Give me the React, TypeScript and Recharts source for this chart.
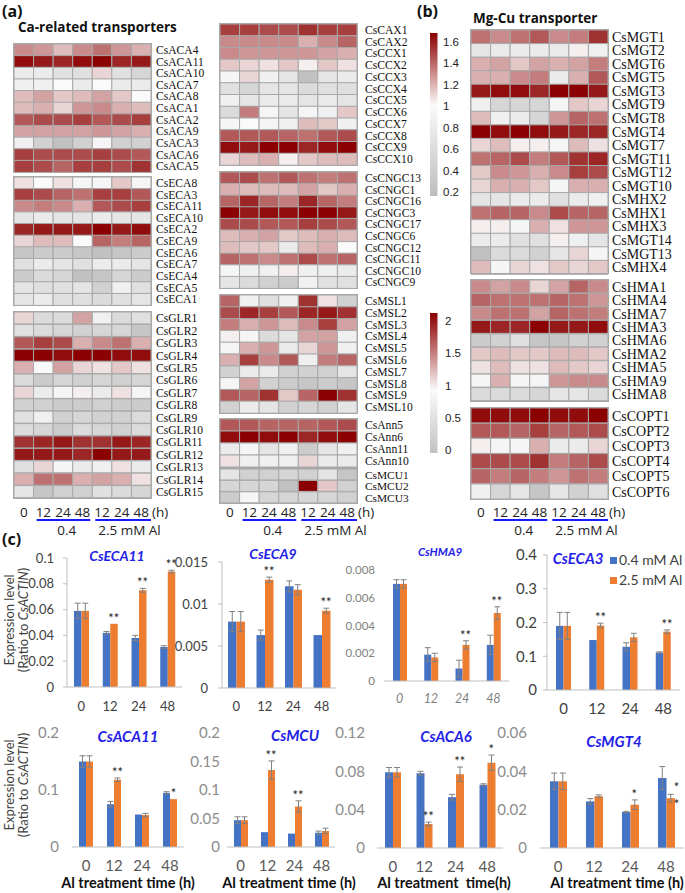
import React from 'react';
import { BarChart, Bar, Cell, XAxis, YAxis, ComposedChart, ErrorBar, Scatter } from 'recharts';

const SERIF = '"Liberation Serif", "Times New Roman", serif';
const SANS = 'Lato, "Open Sans", sans-serif';
const HEAD = '"Open Sans", sans-serif';
const BLUE = '#4472C4';
const ORANGE = '#ED7D31';
const TITLE_BLUE = '#1f22e6';
const CELL = 137 / 7;

// heatmap columns: 0 h, then 12/24/48 h at 0.4 mM, then 12/24/48 h at 2.5 mM Al
const acaGenes = ['CsACA4', 'CsACA11', 'CsACA10', 'CsACA7', 'CsACA8', 'CsACA1', 'CsACA2', 'CsACA9', 'CsACA3', 'CsACA6', 'CsACA5'];
const acaValues = [
  [1.45, 1.4, 1.25, 1.45, 1.55, 1.4, 1.3],
  [1.95, 1.9, 1.85, 1.95, 2.0, 1.85, 1.9],
  [0.85, 0.85, 0.75, 0.75, 1.15, 0.75, 0.65],
  [0.9, 0.9, 1.0, 0.85, 1.0, 0.85, 0.85],
  [1.25, 1.35, 1.2, 1.25, 1.35, 1.2, 1.0],
  [1.25, 1.3, 1.15, 1.4, 1.45, 1.3, 1.25],
  [1.65, 1.7, 1.7, 1.75, 1.65, 1.7, 1.75],
  [1.35, 1.35, 1.35, 1.35, 1.4, 1.35, 1.3],
  [0.9, 0.6, 0.45, 0.6, 0.95, 0.6, 0.6],
  [1.75, 1.7, 1.7, 1.7, 1.75, 1.7, 1.65],
  [1.75, 1.7, 1.6, 1.75, 1.75, 1.7, 1.8],
];

const ecaGenes = ['CsECA8', 'CsECA3', 'CsECA11', 'CsECA10', 'CsECA2', 'CsECA9', 'CsECA6', 'CsECA7', 'CsECA4', 'CsECA5', 'CsECA1'];
const ecaValues = [
  [1.1, 1.0, 1.1, 0.95, 0.95, 1.2, 0.95],
  [1.75, 1.7, 1.6, 1.55, 1.75, 1.75, 1.65],
  [1.45, 1.5, 1.45, 1.3, 1.65, 1.7, 1.75],
  [0.8, 0.85, 0.8, 0.8, 0.85, 0.8, 0.8],
  [1.85, 1.9, 1.9, 1.9, 2.0, 1.9, 1.95],
  [1.15, 1.25, 1.25, 1.0, 1.6, 1.5, 1.6],
  [0.5, 0.55, 0.55, 0.5, 0.45, 0.5, 0.55],
  [0.75, 0.85, 0.8, 0.75, 0.85, 0.85, 0.8],
  [0.55, 0.7, 0.65, 0.45, 0.5, 0.65, 0.55],
  [0.8, 0.75, 0.75, 0.8, 0.6, 0.9, 0.75],
  [0.8, 0.85, 0.75, 0.75, 0.7, 0.75, 0.8],
];

const glrGenes = ['CsGLR1', 'CsGLR2', 'CsGLR3', 'CsGLR4', 'CsGLR5', 'CsGLR6', 'CsGLR7', 'CsGLR8', 'CsGLR9', 'CsGLR10', 'CsGLR11', 'CsGLR12', 'CsGLR13', 'CsGLR14', 'CsGLR15'];
const glrValues = [
  [1.15, 0.7, 0.7, 1.35, 0.9, 0.7, 0.75],
  [0.75, 0.7, 0.65, 0.6, 0.65, 0.65, 0.5],
  [1.65, 1.75, 1.7, 1.3, 1.45, 1.55, 1.3],
  [2.0, 2.0, 1.95, 2.0, 2.0, 1.95, 1.95],
  [1.3, 1.0, 1.35, 1.15, 1.1, 1.2, 1.1],
  [0.7, 0.55, 0.65, 0.6, 0.65, 0.6, 0.65],
  [1.15, 0.85, 0.95, 1.05, 0.85, 1.1, 0.95],
  [0.6, 0.6, 0.55, 0.55, 0.6, 0.55, 0.55],
  [0.75, 0.9, 0.6, 0.65, 0.6, 0.6, 0.7],
  [0.7, 0.65, 0.55, 0.7, 0.65, 0.6, 0.7],
  [1.8, 1.85, 1.9, 1.8, 1.8, 1.9, 1.85],
  [1.9, 1.9, 1.9, 1.85, 2.0, 1.9, 1.9],
  [0.75, 1.15, 0.95, 0.85, 0.9, 1.1, 0.85],
  [1.3, 1.55, 1.55, 1.3, 1.35, 1.3, 1.1],
  [0.8, 0.5, 0.6, 0.6, 0.75, 0.7, 0.65],
];

const ccxGenes = ['CsCAX1', 'CsCAX2', 'CsCCX1', 'CsCCX2', 'CsCCX3', 'CsCCX4', 'CsCCX5', 'CsCCX6', 'CsCCX7', 'CsCCX8', 'CsCCX9', 'CsCCX10'];
const ccxValues = [
  [1.75, 1.75, 1.7, 1.7, 1.8, 1.75, 1.75],
  [1.45, 1.45, 1.45, 1.45, 1.3, 1.45, 1.6],
  [1.45, 1.4, 1.4, 1.4, 1.4, 1.35, 1.3],
  [1.2, 1.15, 1.1, 1.2, 1.05, 1.2, 1.1],
  [0.95, 1.15, 0.9, 0.8, 0.45, 0.8, 0.85],
  [0.75, 0.65, 0.8, 0.8, 0.7, 0.75, 0.75],
  [0.9, 0.8, 0.85, 0.85, 0.8, 0.85, 0.8],
  [0.7, 1.5, 0.95, 0.8, 0.95, 0.9, 1.2],
  [0.95, 1.0, 0.95, 0.9, 1.25, 1.2, 0.9],
  [1.65, 1.65, 1.65, 1.6, 1.55, 1.65, 1.7],
  [1.95, 1.9, 2.0, 2.0, 1.85, 1.95, 2.0],
  [1.15, 1.25, 1.3, 1.05, 1.2, 1.25, 1.25],
];

const cngcGenes = ['CsCNGC13', 'CsCNGC1', 'CsCNGC16', 'CsCNGC3', 'CsCNGC17', 'CsCNGC6', 'CsCNGC12', 'CsCNGC11', 'CsCNGC10', 'CsCNGC9'];
const cngcValues = [
  [1.65, 1.7, 1.55, 1.65, 1.55, 1.5, 1.55],
  [1.3, 1.25, 1.25, 1.25, 1.35, 1.2, 1.3],
  [1.6, 1.85, 1.6, 1.5, 1.85, 1.6, 1.5],
  [2.0, 1.9, 1.95, 1.95, 2.0, 2.0, 1.9],
  [1.7, 1.7, 1.65, 1.65, 1.75, 1.7, 1.65],
  [1.25, 1.3, 1.35, 1.2, 1.25, 1.3, 1.25],
  [1.25, 1.2, 1.2, 0.85, 1.25, 1.3, 1.0],
  [1.6, 1.55, 1.45, 1.55, 1.7, 1.55, 1.6],
  [0.95, 0.9, 0.9, 1.05, 0.9, 0.9, 0.85],
  [0.8, 0.7, 0.6, 0.55, 0.9, 0.75, 0.75],
];

const mslGenes = ['CsMSL1', 'CsMSL2', 'CsMSL3', 'CsMSL4', 'CsMSL5', 'CsMSL6', 'CsMSL7', 'CsMSL8', 'CsMSL9', 'CsMSL10'];
const mslValues = [
  [1.6, 0.9, 0.75, 0.9, 1.8, 1.1, 0.6],
  [1.7, 1.85, 1.75, 1.65, 1.85, 1.9, 1.8],
  [1.5, 1.3, 1.4, 1.25, 1.45, 1.75, 1.35],
  [1.05, 0.95, 0.7, 0.8, 1.35, 1.35, 0.9],
  [0.95, 1.3, 1.4, 0.85, 1.15, 1.4, 0.9],
  [1.3, 1.75, 1.45, 1.65, 0.9, 1.5, 1.6],
  [0.6, 0.85, 0.85, 0.6, 0.6, 0.6, 0.8],
  [0.95, 1.35, 0.6, 0.55, 0.5, 0.55, 0.5],
  [1.65, 1.6, 1.8, 1.2, 1.6, 2.0, 1.8],
  [0.6, 0.85, 0.8, 0.6, 0.65, 0.6, 0.8],
];

const annGenes = ['CsAnn5', 'CsAnn6', 'CsAnn11', 'CsAnn10'];
const annValues = [
  [1.65, 1.65, 1.6, 1.6, 1.6, 1.65, 1.7],
  [1.95, 2.0, 1.95, 2.0, 1.85, 1.95, 2.0],
  [0.85, 0.95, 0.8, 0.9, 0.55, 0.8, 0.9],
  [1.1, 0.9, 0.9, 0.9, 1.15, 0.85, 0.85],
];

const mcuGenes = ['CsMCU1', 'CsMCU2', 'CsMCU3'];
const mcuValues = [
  [0.8, 0.6, 0.6, 0.65, 0.6, 0.8, 0.5],
  [0.65, 0.65, 0.65, 0.45, 2.0, 1.2, 0.6],
  [0.55, 0.95, 0.65, 0.65, 0.65, 0.65, 0.6],
];

const mgtGenes = ['CsMGT1', 'CsMGT2', 'CsMGT6', 'CsMGT5', 'CsMGT3', 'CsMGT9', 'CsMGT8', 'CsMGT4', 'CsMGT7', 'CsMGT11', 'CsMGT12', 'CsMGT10', 'CsMHX2', 'CsMHX1', 'CsMHX3', 'CsMGT14', 'CsMGT13', 'CsMHX4'];
const mgtValues = [
  [1.55, 1.45, 1.55, 1.65, 1.45, 1.5, 1.8],
  [0.8, 0.85, 0.85, 0.85, 0.85, 1.05, 0.9],
  [1.3, 1.35, 1.2, 1.35, 1.3, 1.35, 1.5],
  [1.3, 1.3, 1.45, 1.5, 0.85, 1.3, 1.65],
  [1.9, 1.95, 1.95, 1.85, 2.0, 2.0, 1.9],
  [0.9, 0.65, 0.65, 0.65, 0.95, 1.2, 1.15],
  [1.25, 0.9, 0.85, 0.65, 1.4, 1.6, 1.55],
  [2.0, 1.95, 2.0, 1.95, 1.9, 1.85, 1.85],
  [1.15, 1.25, 1.05, 1.05, 0.95, 1.25, 1.1],
  [1.55, 1.6, 1.7, 1.5, 1.65, 1.8, 1.85],
  [1.2, 1.45, 1.4, 1.3, 1.45, 1.75, 1.7],
  [1.15, 1.3, 1.3, 1.2, 0.95, 1.3, 1.3],
  [0.8, 0.8, 0.85, 0.85, 0.75, 0.85, 0.9],
  [1.55, 1.6, 1.6, 1.45, 1.7, 1.6, 1.6],
  [1.05, 1.05, 0.95, 1.3, 1.1, 1.4, 1.4],
  [0.85, 0.85, 0.75, 0.75, 1.05, 0.9, 0.8],
  [0.45, 0.7, 0.7, 0.6, 0.8, 1.15, 0.95],
  [1.25, 0.95, 1.15, 1.1, 1.2, 1.15, 1.2],
];

const hmaGenes = ['CsHMA1', 'CsHMA4', 'CsHMA7', 'CsHMA3', 'CsHMA6', 'CsHMA2', 'CsHMA5', 'CsHMA9', 'CsHMA8'];
const hmaValues = [
  [1.45, 1.35, 1.45, 1.15, 1.35, 1.6, 1.45],
  [1.6, 1.55, 1.55, 1.55, 1.6, 1.55, 1.4],
  [1.45, 1.55, 1.55, 1.35, 1.6, 1.55, 1.5],
  [1.9, 1.85, 1.85, 2.0, 1.9, 1.9, 1.95],
  [0.55, 0.6, 0.75, 0.5, 0.5, 0.6, 0.6],
  [1.2, 1.25, 1.2, 1.2, 1.25, 1.25, 1.2],
  [1.1, 1.25, 1.1, 1.1, 1.25, 1.2, 1.15],
  [0.95, 1.3, 0.95, 0.95, 1.4, 1.45, 1.45],
  [0.7, 0.7, 0.7, 0.65, 0.8, 0.8, 0.7],
];

const coptGenes = ['CsCOPT1', 'CsCOPT2', 'CsCOPT3', 'CsCOPT4', 'CsCOPT5', 'CsCOPT6'];
const coptValues = [
  [1.95, 1.95, 1.95, 2.0, 1.95, 1.95, 2.0],
  [1.65, 1.65, 1.6, 1.75, 1.6, 1.65, 1.7],
  [1.05, 0.95, 0.95, 1.3, 0.85, 0.85, 1.15],
  [1.7, 1.7, 1.7, 1.8, 1.5, 1.6, 1.7],
  [1.6, 1.5, 1.6, 1.5, 1.4, 1.55, 1.5],
  [0.9, 0.65, 0.8, 0.5, 0.8, 0.6, 0.75],
];

// ---- qRT-PCR bar charts (ratio to CsACTIN)
const times = ['0', '12', '24', '48'];

const eca11Low = [0.059, 0.042, 0.038, 0.031];
const eca11LowErr = [0.006, 0.001, 0.002, 0.001];
const eca11High = [0.059, 0.049, 0.075, 0.0895];
const eca11HighErr = [0.006, 0, 0.0015, 0.001];
const eca11Stars = ['', '**', '**', '**'];

const eca9Low = [0.0079, 0.0063, 0.0121, 0.0063];
const eca9LowErr = [0.0012, 0.0006, 0.00065, 0];
const eca9High = [0.0079, 0.0129, 0.0117, 0.0092];
const eca9HighErr = [0.0012, 0.0003, 0.0006, 0.0003];
const eca9Stars = ['', '**', '', '**'];

const hma9Low = [0.0070, 0.0019, 0.0009, 0.0026];
const hma9LowErr = [0.0003, 0.0005, 0.0006, 0.0007];
const hma9High = [0.0070, 0.0017, 0.0026, 0.0049];
const hma9HighErr = [0.0003, 0.0003, 0.0003, 0.00045];
const hma9Stars = ['', '', '**', '**'];

const eca3Low = [0.19, 0.148, 0.128, 0.111];
const eca3LowErr = [0.04, 0, 0.012, 0.002];
const eca3High = [0.19, 0.191, 0.156, 0.173];
const eca3HighErr = [0.04, 0.007, 0.012, 0.005];
const eca3Stars = ['', '**', '', '**'];

const aca11Low = [0.15, 0.075, 0.057, 0.095];
const aca11LowErr = [0.01, 0.005, 0, 0.002];
const aca11High = [0.15, 0.118, 0.056, 0.084];
const aca11HighErr = [0.01, 0.003, 0.003, 0];
const aca11Stars = ['', '**', '', '*'];

const mcuLow = [0.047, 0.026, 0.0235, 0.025];
const mcuLowErr = [0.006, 0, 0, 0.003];
const mcuHigh = [0.047, 0.135, 0.071, 0.028];
const mcuHighErr = [0.006, 0.016, 0.01, 0.005];
const mcuStars = ['', '**', '**', ''];

const aca6Low = [0.079, 0.078, 0.053, 0.066];
const aca6LowErr = [0.005, 0.002, 0.003, 0.001];
const aca6High = [0.079, 0.025, 0.077, 0.089];
const aca6HighErr = [0.005, 0.002, 0.0075, 0.008];
const aca6Stars = ['', '**', '**', '*'];

const mgt4Low = [0.0348, 0.0243, 0.0188, 0.0365];
const mgt4LowErr = [0.0043, 0.0015, 0.0003, 0.006];
const mgt4High = [0.0348, 0.027, 0.0226, 0.026];
const mgt4HighErr = [0.0043, 0.0007, 0.0025, 0.002];
const mgt4Stars = ['', '', '*', '*\n*'];

const heat = (v: number) => {
  if (v < 1) {
    const t = Math.max(0, (v - 0.4) / 0.6);
    const g = Math.round(188 + 62 * t);
    return `rgb(${g},${g},${g})`;
  }
  const s = Math.min(1, v - 1);
  const r = Math.round(250 - 111 * s);
  const gb = Math.round(250 - 250 * s);
  return `rgb(${r},${gb},${gb})`;
};

const cols = [0, 1, 2, 3, 4, 5, 6];

type HeatProps = {
  genes: string[];
  values: number[][];
  left: number;
  top: number;
  rowH: number;
  labelW: number;
  fontSize: number;
  gap: number;
};

function Heat({ genes, values, left, top, rowH, labelW, fontSize, gap }: HeatProps) {
  const data = genes.map((gene, i) => {
    const row: Record<string, any> = { gene };
    cols.forEach((j) => {
      row[`c${j}`] = 1;
      row[`v${j}`] = values[i][j];
    });
    return row;
  });
  const w = CELL * 7;
  const h = rowH * genes.length;
  const pad = 5; // room so the first/last labels are not clipped
  return (
    <div style={{ position: 'absolute', left, top: top - pad }}>
      <BarChart
        width={w + labelW}
        height={h + 2 * pad}
        data={data}
        layout="vertical"
        margin={{ top: pad, right: 0, bottom: pad, left: 0 }}
        barCategoryGap={0}
        barGap={0}
      >
        <XAxis type="number" domain={[0, 7]} hide />
        <YAxis
          type="category"
          dataKey="gene"
          orientation="right"
          width={labelW}
          axisLine={false}
          tickLine={false}
          tickSize={0}
          tickMargin={gap}
          interval={0}
          tick={{ fontFamily: SERIF, fontSize, fill: '#111' }}
        />
        {cols.map((j) => (
          <Bar key={j} dataKey={`c${j}`} stackId="h" isAnimationActive={false} stroke="#a8a8a8" strokeWidth={1}>
            {data.map((r, i) => (
              <Cell key={i} fill={heat(r[`v${j}`])} />
            ))}
          </Bar>
        ))}
      </BarChart>
      <div
        style={{
          position: 'absolute',
          left: -1.5,
          top: pad - 1.5,
          width: w,
          height: h,
          border: '1.5px solid #a8a8a8',
          pointerEvents: 'none',
        }}
      />
    </div>
  );
}

type ExprSpec = {
  low: number[];
  lowErr: number[];
  high: number[];
  highErr: number[];
  stars: string[];
  ticks: number[];
  x0: number;
  x1: number;
  y0: number;
  y1: number;
  barSize: number;
  yGap: number;
  yLine: boolean;
  yFont: number;
  yFill: string;
  xFont: number;
  xFill: string;
  xItalic?: boolean;
  xMargin: number;
};

const row1 = { yFont: 13, yFill: '#404040', xFont: 13, xFill: '#404040' };
const row2 = { yFont: 15, yFill: '#8c8c8c', xFont: 15, xFill: '#595959', yLine: false, xMargin: 13 };

const exprCharts: ExprSpec[] = [
  { low: eca11Low, lowErr: eca11LowErr, high: eca11High, highErr: eca11HighErr, stars: eca11Stars,
    ticks: [0, 0.02, 0.04, 0.06, 0.08, 0.1], x0: 67, x1: 182, y0: 558, y1: 687, barSize: 7.5, yGap: 13, yLine: true, xMargin: 15, ...row1 },
  { low: eca9Low, lowErr: eca9LowErr, high: eca9High, highErr: eca9HighErr, stars: eca9Stars,
    ticks: [0, 0.005, 0.01, 0.015], x0: 222, x1: 336, y0: 562, y1: 688, barSize: 8.5, yGap: 14, yLine: true, xMargin: 14, ...row1 },
  { low: hma9Low, lowErr: hma9LowErr, high: hma9High, highErr: hma9HighErr, stars: hma9Stars,
    ticks: [0, 0.002, 0.004, 0.006, 0.008], x0: 384, x1: 509, y0: 570, y1: 681, barSize: 7, yGap: 9, yLine: false,
    yFont: 11.5, yFill: '#7f7f7f', xFont: 12.5, xFill: '#7f7f7f', xItalic: true, xMargin: 13 },
  { low: eca3Low, lowErr: eca3LowErr, high: eca3High, highErr: eca3HighErr, stars: eca3Stars,
    ticks: [0, 0.1, 0.2, 0.3, 0.4], x0: 547, x1: 680, y0: 555, y1: 690, barSize: 7.5, yGap: 10, yLine: true,
    yFont: 15, yFill: '#404040', xFont: 15, xFill: '#404040', xMargin: 13 },
  { low: aca11Low, lowErr: aca11LowErr, high: aca11High, highErr: aca11HighErr, stars: aca11Stars,
    ticks: [0, 0.1, 0.2], x0: 72, x1: 184, y0: 733, y1: 847, barSize: 7, yGap: 13, ...row2 },
  { low: mcuLow, lowErr: mcuLowErr, high: mcuHigh, highErr: mcuHighErr, stars: mcuStars,
    ticks: [0, 0.05, 0.1, 0.15, 0.2], x0: 227, x1: 335, y0: 733, y1: 847, barSize: 7, yGap: 7, ...row2 },
  { low: aca6Low, lowErr: aca6LowErr, high: aca6High, highErr: aca6HighErr, stars: aca6Stars,
    ticks: [0, 0.04, 0.08, 0.12], x0: 377, x1: 503, y0: 733, y1: 848, barSize: 8, yGap: 12, ...row2 },
  { low: mgt4Low, lowErr: mgt4LowErr, high: mgt4High, highErr: mgt4HighErr, stars: mgt4Stars,
    ticks: [0, 0.02, 0.04, 0.06], x0: 540, x1: 684, y0: 733, y1: 848, barSize: 8.5, yGap: 13, ...row2 },
];

const chartTitles = [
  { text: 'CsECA11', x: 117, y: 556, size: 14 },
  { text: 'CsECA9', x: 273, y: 554, size: 14 },
  { text: 'CsHMA9', x: 440, y: 552, size: 11.5 },
  { text: 'CsECA3', x: 578, y: 559, size: 15 },
  { text: 'CsACA11', x: 128, y: 737, size: 15 },
  { text: 'CsMCU', x: 295, y: 736, size: 15 },
  { text: 'CsACA6', x: 446, y: 737, size: 15 },
  { text: 'CsMGT4', x: 614, y: 742, size: 15 },
];

const xTitles = [
  { text: 'Al treatment time (h)', x: 128 },
  { text: 'Al treatment time (h)', x: 289 },
  { text: 'Al treatment  time(h)', x: 444 },
  { text: 'Al treatment time (h)', x: 617 },
];

function Expr({ s }: { s: ExprSpec }) {
  const data = times.map((t, i) => ({
    t,
    low: s.low[i],
    lowErr: s.lowErr[i],
    high: s.high[i],
    highErr: s.highErr[i],
    star: s.stars[i],
    starY: s.high[i] + s.highErr[i],
  }));
  const mt = 12;
  const mr = 2;
  const xh = 30;
  const yw = 60;
  const tickSize = s.yLine ? 4 : 0;
  const bs = s.barSize;
  const starShape = (p: any) => {
    const { cx, cy, payload } = p;
    if (!payload || !payload.star) return <g />;
    const lines = String(payload.star).split('\n');
    if (lines.length > 1) {
      return (
        <g>
          {lines.map((l, k) => (
            <text key={k} x={cx + bs + 2} y={cy - 2 + k * 17} textAnchor="middle" fontFamily={SANS} fontSize={13} fill="#222">
              {l}
            </text>
          ))}
        </g>
      );
    }
    return (
      <text x={cx + bs / 2} y={cy - 1} textAnchor="middle" fontFamily={SANS} fontSize={13} fill="#222">
        {payload.star}
      </text>
    );
  };
  return (
    <div style={{ position: 'absolute', left: s.x0 - yw, top: s.y0 - mt }}>
      <ComposedChart
        width={s.x1 - s.x0 + yw + mr}
        height={s.y1 - s.y0 + mt + xh}
        data={data}
        margin={{ top: mt, right: mr, left: 0, bottom: 0 }}
        barGap={0}
      >
        <XAxis
          dataKey="t"
          height={xh}
          tickLine={false}
          tickSize={0}
          tickMargin={s.xMargin}
          axisLine={{ stroke: '#bfbfbf' }}
          interval={0}
          tick={{ fontFamily: SANS, fontSize: s.xFont, fill: s.xFill, fontStyle: s.xItalic ? 'italic' : 'normal' }}
        />
        <YAxis
          width={yw}
          domain={[0, s.ticks[s.ticks.length - 1]]}
          ticks={s.ticks}
          interval={0}
          axisLine={s.yLine ? { stroke: '#bfbfbf' } : false}
          tickLine={s.yLine ? { stroke: '#bfbfbf' } : false}
          tickSize={tickSize}
          tickMargin={s.yGap - tickSize}
          tick={{ fontFamily: SANS, fontSize: s.yFont, fill: s.yFill }}
        />
        <Bar dataKey="low" fill={BLUE} barSize={bs} isAnimationActive={false}>
          <ErrorBar dataKey="lowErr" width={3} stroke="#808080" strokeWidth={1} />
        </Bar>
        <Bar dataKey="high" fill={ORANGE} barSize={bs} isAnimationActive={false}>
          <ErrorBar dataKey="highErr" width={3} stroke="#808080" strokeWidth={1} />
        </Bar>
        <Scatter dataKey="starY" isAnimationActive={false} shape={starShape} />
      </ComposedChart>
    </div>
  );
}

const hours = ['0', '12', '24', '48', '12', '24', '48'];

function Timeline({ left }: { left: number }) {
  return (
    <g fontFamily={HEAD} fontSize={13.5} fill="#222">
      {hours.map((h, j) => (
        <text key={j} x={left + (j + 0.5) * CELL} y={517} textAnchor="middle">
          {h}
        </text>
      ))}
      <text x={left + 7 * CELL + 1} y={517}>(h)</text>
      <line x1={left + CELL + 3} x2={left + 4 * CELL - 2} y1={520} y2={520} stroke="#1a1aff" strokeWidth={2} />
      <line x1={left + 4 * CELL + 3} x2={left + 7 * CELL} y1={520} y2={520} stroke="#1a1aff" strokeWidth={2} />
      <text x={left + 2.7 * CELL} y={535} textAnchor="middle">0.4</text>
      <text x={left + 5.9 * CELL} y={535} textAnchor="middle">2.5 mM Al</text>
    </g>
  );
}

const cb1Labels = ['1.6', '1.4', '1.2', '1', '0.8', '0.6', '0.4', '0.2'];
const cb2Labels = ['2', '1.5', '1', '0.5', '0'];

export default function App() {
  return (
    <div style={{ position: 'absolute', left: 0, top: 0, width: 685, height: 893, overflow: 'hidden', background: '#fff' }}>
      <Heat genes={acaGenes} values={acaValues} left={14} top={44} rowH={11.64} labelW={60} fontSize={11.6} gap={5} />
      <Heat genes={ecaGenes} values={ecaValues} left={14} top={177} rowH={11.64} labelW={60} fontSize={11.6} gap={5} />
      <Heat genes={glrGenes} values={glrValues} left={14} top={312} rowH={12.4} labelW={60} fontSize={11.6} gap={5} />

      <Heat genes={ccxGenes} values={ccxValues} left={220} top={24} rowH={11.75} labelW={70} fontSize={11.6} gap={8} />
      <Heat genes={cngcGenes} values={cngcValues} left={220} top={172} rowH={11.6} labelW={70} fontSize={11.6} gap={8} />
      <Heat genes={mslGenes} values={mslValues} left={220} top={295} rowH={11.8} labelW={70} fontSize={11.6} gap={8} />
      <Heat genes={annGenes} values={annValues} left={220} top={419} rowH={12} labelW={70} fontSize={11.6} gap={8} />
      <Heat genes={mcuGenes} values={mcuValues} left={220} top={469} rowH={11.4} labelW={70} fontSize={11.4} gap={8} />

      <Heat genes={mgtGenes} values={mgtValues} left={471} top={30} rowH={13.55} labelW={76} fontSize={14} gap={4} />
      <Heat genes={hmaGenes} values={hmaValues} left={471} top={280} rowH={13.45} labelW={76} fontSize={14} gap={4} />
      <Heat genes={coptGenes} values={coptValues} left={471} top={408} rowH={15.2} labelW={76} fontSize={14} gap={4} />

      {exprCharts.map((s, i) => (
        <Expr key={i} s={s} />
      ))}

      <svg width={685} height={893} style={{ position: 'absolute', left: 0, top: 0, pointerEvents: 'none' }}>
        <defs>
          <linearGradient id="cb1" x1="0" y1="0" x2="0" y2="1">
            <stop offset="0" stopColor="#8b0000" />
            <stop offset="0.22" stopColor="#c47b7b" />
            <stop offset="0.44" stopColor="#fafafa" />
            <stop offset="1" stopColor="#bdbdbd" />
          </linearGradient>
          <linearGradient id="cb2" x1="0" y1="0" x2="0" y2="1">
            <stop offset="0" stopColor="#8b0000" />
            <stop offset="0.28" stopColor="#c47b7b" />
            <stop offset="0.55" stopColor="#fafafa" />
            <stop offset="1" stopColor="#c2c2c2" />
          </linearGradient>
        </defs>

        <g fontFamily={HEAD} fontWeight={700} fill="#111">
          <text x={2} y={17} fontSize={16}>(a)</text>
          <text x={18} y={32} fontSize={13.5}>Ca-related transporters</text>
          <text x={417} y={17} fontSize={16}>(b)</text>
          <text x={473} y={23} fontSize={13.5}>Mg-Cu transporter</text>
          <text x={2} y={545} fontSize={16}>(c)</text>
        </g>

        <rect x={430} y={33} width={7.5} height={163} fill="url(#cb1)" />
        {cb1Labels.map((l, i) => (
          <text key={l} x={443} y={46 + i * 21.43} fontFamily='"Liberation Sans", Arial, sans-serif' fontSize={11.5} fill="#222">
            {l}
          </text>
        ))}
        <rect x={430} y={313} width={7.5} height={140} fill="url(#cb2)" />
        {cb2Labels.map((l, i) => (
          <text key={l} x={445} y={325 + i * 32.3} fontFamily='"Liberation Sans", Arial, sans-serif' fontSize={11.5} fill="#222">
            {l}
          </text>
        ))}

        <Timeline left={14} />
        <Timeline left={220} />
        <Timeline left={471} />

        {chartTitles.map((t) => (
          <text
            key={t.text}
            x={t.x}
            y={t.y + t.size * 0.35}
            textAnchor="middle"
            fontFamily={SANS}
            fontWeight={700}
            fontStyle="italic"
            fontSize={t.size}
            fill={TITLE_BLUE}
          >
            {t.text}
          </text>
        ))}

        {xTitles.map((t, i) => (
          <text key={i} x={t.x} y={888} textAnchor="middle" fontFamily={SANS} fontWeight={700} fontSize={14.5} fill="#111" style={{ whiteSpace: 'pre' }}>
            {t.text}
          </text>
        ))}

        <rect x={610} y={557} width={7} height={7} fill={BLUE} />
        <text x={619} y={565} fontFamily={SANS} fontSize={14} fill="#404040">0.4 mM Al</text>
        <rect x={610} y={577} width={7} height={7} fill={ORANGE} />
        <text x={619} y={585} fontFamily={SANS} fontSize={14} fill="#404040">2.5 mM Al</text>

        {[620, 785].map((cy) => (
          <g key={cy} fontFamily={SANS} fontSize={13} fill="#404040">
            <text transform={`translate(14, ${cy}) rotate(-90)`} textAnchor="middle">Expression level</text>
            <text transform={`translate(28, ${cy}) rotate(-90)`} textAnchor="middle">
              (Ratio to <tspan fontStyle="italic">CsACTIN</tspan>)
            </text>
          </g>
        ))}
      </svg>
    </div>
  );
}
